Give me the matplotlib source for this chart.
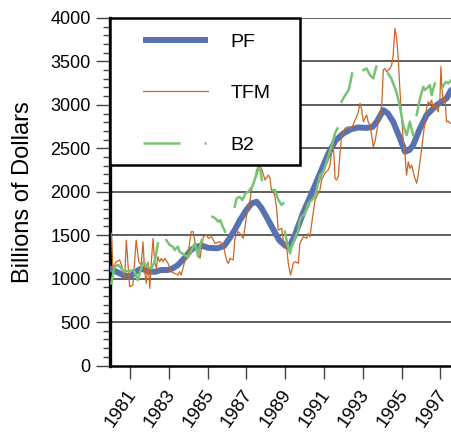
import numpy as np
import matplotlib
matplotlib.use('Agg')
import matplotlib.pyplot as plt
import matplotlib.transforms as mtransforms
from matplotlib.lines import Line2D
from matplotlib.patches import Rectangle

plt.rcParams['font.family'] = ['Liberation Sans', 'DejaVu Sans']

# PF (smooth series)
pf_year = [1979.95, 1980.3, 1980.65, 1981.0, 1981.3, 1981.6, 1981.95, 1982.3, 1982.6, 1982.96,
           1983.2, 1983.47, 1983.8, 1984.14, 1984.4, 1984.7, 1985.02, 1985.5, 1985.85, 1986.15,
           1986.4, 1986.67, 1987.0, 1987.27, 1987.53, 1987.79, 1988.13, 1988.4, 1988.7, 1989.0,
           1989.2, 1989.5, 1989.93, 1990.4, 1990.85, 1991.25, 1991.6, 1992.0, 1992.4, 1992.77,
           1993.2, 1993.5, 1993.72, 1994.06, 1994.3, 1994.57, 1994.92, 1995.18, 1995.4, 1995.6,
           1995.95, 1996.29, 1996.81, 1997.32, 1997.55]
pf_val = [1118, 1079, 1041, 1022, 1079, 1118, 1079, 1079, 1099, 1099,
          1118, 1157, 1234, 1329, 1367, 1380, 1355, 1349, 1375, 1470,
          1560, 1674, 1789, 1866, 1885, 1809, 1674, 1560, 1440, 1380,
          1360, 1500, 1760, 2000, 2240, 2450, 2590, 2672, 2720, 2740,
          2735, 2745, 2805, 2940, 2900, 2805, 2614, 2460, 2480, 2537,
          2729, 2883, 2998, 3075, 3170]

# TFM (noisy series)
tfm_year = [1980.04, 1980.12, 1980.29, 1980.47, 1980.59, 1980.73, 1980.81, 1980.98, 1981.15, 1981.32,
            1981.45, 1981.58, 1981.67, 1981.76, 1981.84, 1981.93, 1982.02, 1982.10, 1982.19, 1982.27,
            1982.36, 1982.44, 1982.53, 1982.61, 1982.70, 1982.79, 1982.96, 1983.13, 1983.30, 1983.47,
            1983.56, 1983.64, 1983.82, 1983.99, 1984.08, 1984.16, 1984.26, 1984.35, 1984.61, 1984.78,
            1984.95, 1985.04, 1985.21, 1985.38, 1985.64, 1985.81, 1985.90, 1985.98, 1986.07, 1986.15,
            1986.32, 1986.41, 1986.58, 1986.67, 1986.84, 1986.93, 1987.02, 1987.19, 1987.27, 1987.44,
            1987.53, 1987.61, 1987.79, 1987.96, 1988.13, 1988.22, 1988.30, 1988.39, 1988.47, 1988.56,
            1988.64, 1988.82, 1988.90, 1989.08, 1989.16, 1989.28, 1989.42, 1989.51, 1989.68, 1989.76,
            1989.93, 1990.11, 1990.19, 1990.28, 1990.37, 1990.54, 1990.62, 1990.79, 1990.88, 1991.05,
            1991.22, 1991.31, 1991.40, 1991.45, 1991.52, 1991.57, 1991.65, 1991.74, 1991.82, 1991.91,
            1992.08, 1992.25, 1992.43, 1992.60, 1992.69, 1992.77, 1992.86, 1992.95, 1993.03, 1993.11,
            1993.20, 1993.28, 1993.37, 1993.46, 1993.54, 1993.63, 1993.72, 1993.80, 1993.89, 1993.98,
            1994.06, 1994.14, 1994.23, 1994.31, 1994.40, 1994.49, 1994.57, 1994.66, 1994.75, 1994.83,
            1994.92, 1995.00, 1995.09, 1995.18, 1995.26, 1995.35, 1995.43, 1995.52, 1995.60, 1995.69,
            1995.78, 1995.86, 1995.95, 1996.04, 1996.12, 1996.21, 1996.29, 1996.38, 1996.46, 1996.55,
            1996.63, 1996.72, 1996.81, 1996.89, 1996.98, 1997.03, 1997.08, 1997.15, 1997.24, 1997.32,
            1997.41, 1997.49, 1997.55]
tfm_val = [1521, 1118, 1195, 1214, 1137, 1003, 1444, 907, 926, 1444,
           1195, 1157, 1425, 1079, 946, 1195, 888, 1195, 1464, 1195,
           1118, 1252, 1195, 1234, 1195, 1234, 1176, 1079, 1061, 1041,
           1079, 1041, 1195, 1272, 1425, 1540, 1540, 1425, 1234, 1482,
           1502, 1464, 1482, 1406, 1425, 1387, 1291, 1214, 1176, 1234,
           1214, 1464, 1540, 1521, 1464, 1597, 1732, 1905, 2020, 2135,
           2250, 2288, 2269, 2135, 2192, 2154, 2000, 2020, 1942, 1809,
           1559, 1579, 1444, 1367, 1176, 1041, 1176, 1195, 1176, 1406,
           1482, 1464, 1521, 1482, 1636, 1905, 1942, 2020, 2135, 2212,
           2250, 2307, 2460, 2595, 2403, 2154, 2135, 2173, 2422, 2633,
           2729, 2748, 2729, 2825, 2863, 2920, 3017, 2940, 2805, 2844,
           2883, 2805, 2767, 2652, 2518, 2575, 2690, 2805, 2883, 2998,
           3400, 3420, 3381, 3400, 3420, 3458, 3573, 3880, 3765, 3535,
           3151, 2883, 2575, 2422, 2192, 2345, 2269, 2307, 2230, 2154,
           2097, 2192, 2345, 2499, 2652, 2805, 2960, 3036, 2998, 3055,
           2960, 2998, 2960, 2920, 3075, 3440, 3190, 3036, 3075, 2805,
           2813, 2787, 2790]

# B2 (nan = no value shown)
nan = np.nan
b2_year = [1980.04, 1980.2, 1980.4, 1980.55, 1980.7, 1981.2, 1981.4, 1981.55, 1981.7, 1981.9,
           1982.1, 1982.27, 1982.35, 1982.44, 1982.6,
           1982.87, 1983.05, 1983.22, 1983.3, 1983.47, 1983.56, 1983.8, 1984.0, 1984.35, 1984.44,
           1984.52, 1984.6, 1984.7, 1984.9,
           1985.25, 1985.4, 1985.55, 1985.65, 1985.75, 1985.9, 1986.1,
           1986.4, 1986.5, 1986.65, 1986.8, 1986.95, 1987.1, 1987.3, 1987.45, 1987.6, 1987.7,
           1987.8, 1988.0,
           1988.39, 1988.47, 1988.65, 1988.82, 1988.9, 1988.95,
           1988.99, 1989.07, 1989.25, 1989.33, 1989.68, 1989.76, 1989.85, 1990.02, 1990.19, 1990.54,
           1990.7, 1990.8, 1990.97, 1991.3, 1991.45, 1991.6, 1991.7, 1991.8,
           1991.91, 1992.0, 1992.1, 1992.27, 1992.37, 1992.45, 1992.7,
           1993.03, 1993.2, 1993.37, 1993.54, 1993.63, 1993.7, 1994.0,
           1994.3, 1994.47, 1994.73, 1994.9, 1995.09, 1995.17, 1995.26, 1995.35, 1995.43, 1995.52,
           1995.6, 1995.7,
           1995.78, 1995.95, 1996.12, 1996.2, 1996.3, 1996.46, 1996.55, 1996.64, 1996.72, 1996.9,
           1997.13, 1997.22, 1997.3, 1997.4, 1997.55]
b2_val = [946, 1137, 1157, 1118, 1080, 1099, 984, 1099, 1195, 1137,
          1118, 1195, 1291, 1406, nan,
          1444, 1387, 1367, 1329, 1367, 1310, 1272, 1252, 1406, 1329,
          1252, 1367, 1444, nan,
          1712, 1694, 1655, 1674, 1617, 1540, nan,
          1827, 1924, 1942, 1905, 1981, 2000, 2060, 2150, 2250, 2300,
          2135, nan,
          2020, 2020, 1905, 1847, 1866, nan,
          1540, 1444, 1291, 1367, 1559, 1674, 1712, 1751, 1866, 1942,
          2100, 2192, 2230, 2460, 2575, 2690, 2729, nan,
          3036, 3075, 3113, 3170, 3266, 3362, nan,
          3400, 3420, 3343, 3305, 3381, 3440, nan,
          3362, 3305, 3151, 2998, 2767, 2710, 2652, 2729, 2805, 2720,
          2652, nan,
          2883, 3075, 3208, 3170, 3190, 3228, 3113, 3190, 3247, nan,
          3208, 3247, 3266, 3247, 3280]

year_ticks = [1981, 1983, 1985, 1987, 1989, 1991, 1993, 1995, 1997]

pf_color = '#5871b0'
tfm_color = '#cc6622'
b2_color = '#78c373'

fig = plt.figure(figsize=(4.51, 4.34), dpi=100)
ax = fig.add_axes([110 / 451, 68.5 / 434, 341 / 451, 347.5 / 434])

ax.plot(pf_year, pf_val, color=pf_color, lw=4.3, solid_capstyle='round', zorder=3)
ax.plot(tfm_year, tfm_val, color=tfm_color, lw=0.9, zorder=3)
ax.plot(b2_year, b2_val, color=b2_color, lw=1.8, zorder=3)

ax.set_xlim(1979.97, 1997.55)
ax.set_ylim(0, 4000)
ax.set_yticks(np.arange(0, 4001, 500))
ax.set_yticks(np.arange(0, 4001, 100), minor=True)
ax.set_xticks(year_ticks)
ax.set_xticklabels([str(y) for y in year_ticks], rotation=55, ha='right', va='center',
                   rotation_mode='anchor', fontsize=13.5)
ax.tick_params(axis='y', which='major', length=10, width=1, color='#444444', labelsize=13, pad=4)
ax.tick_params(axis='y', which='minor', length=5, width=1, color='#444444')
ax.tick_params(axis='x', which='major', length=9.5, width=1, color='#444444', pad=9)
shift = mtransforms.ScaledTranslation(3 / 100, 0, fig.dpi_scale_trans)
for lab in ax.get_xticklabels():
    lab.set_transform(lab.get_transform() + shift)

for v in range(500, 4001, 500):
    ax.axhline(v, color='#333333', lw=1.1, zorder=1)

ax.spines['right'].set_visible(False)
ax.spines['top'].set_visible(False)
ax.spines['left'].set_linewidth(2.4)
ax.spines['bottom'].set_linewidth(1.8)

ax.set_ylabel('Billions of Dollars', fontsize=17, labelpad=12)

# legend box
ax.add_patch(Rectangle((0, (365.5 - 165) / 347.5), 190 / 341, 1 - (365.5 - 165) / 347.5,
                       transform=ax.transAxes, facecolor='white', edgecolor='black',
                       lw=1.8, zorder=4, clip_on=False))
handles = [Line2D([], [], color=pf_color, lw=4.3, solid_capstyle='butt'),
           Line2D([], [], color=tfm_color, lw=0.9),
           Line2D([], [], color=b2_color, lw=1.8, dashes=(14.8, 9.6, 0.8, 9.6))]
leg = ax.legend(handles, ['PF', 'TFM', 'B2'], loc='upper left', frameon=False,
                bbox_to_anchor=(33 / 341, (365.5 - 33) / 347.5), borderpad=0, borderaxespad=0,
                fontsize=14, handlelength=3.35, handletextpad=1.15, labelspacing=1.75)
leg.set_zorder(5)

fig.savefig('out.png', dpi=100)
